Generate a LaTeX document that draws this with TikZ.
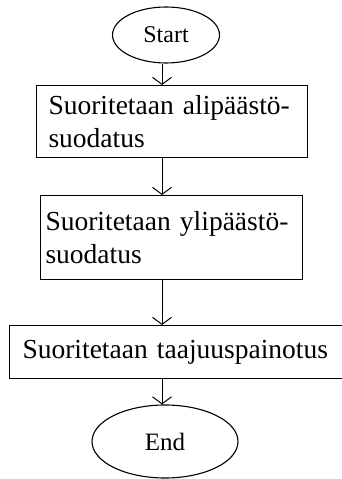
\documentclass[tikz,border=0pt]{standalone}
\usepackage{fontspec}
\setmainfont{Liberation Serif}
\usetikzlibrary{shapes.geometric,arrows.meta}

\tikzset{
  outline/.style={draw=black, line width=1.1pt},
  terminal/.style={outline, ellipse, inner sep=0pt},
  stepbox/.style={outline, rectangle, align=left, anchor=north west,
    font=\fontsize{27.5}{33}\selectfont, inner ysep=0pt},
  flow/.style={line width=1pt, -{Straight Barb[length=7pt,width=19pt,line width=1pt]}}
}

\begin{document}
\begin{tikzpicture}[x=1pt,y=1pt]
  \useasboundingbox (0,0) rectangle (342,479);
  \fill[white] (0,0) rectangle (342,479);

  % vertical spine along which the connectors run
  \coordinate (spine) at (162,0);

  \node[terminal, minimum width=107pt, minimum height=56pt,
        font=\fontsize{24}{28}\selectfont] (start) at (166,444) {Start};

  \node[stepbox, inner xsep=12pt, text width=247pt, minimum height=72pt]
    (lowpass) at (36,394) {Suoritetaan alipäästö-\\suodatus};

  \node[stepbox, inner xsep=5pt, text width=252pt, minimum height=84pt]
    (highpass) at (40,284) {Suoritetaan ylipäästö-\\suodatus};

  \node[stepbox, inner xsep=13pt, text width=309pt, minimum height=53pt]
    (weighting) at (9,154) {Suoritetaan taajuuspainotus};

  \node[terminal, minimum width=146pt, minimum height=73pt,
        font=\fontsize{25}{30}\selectfont] (end) at (165,37.5) {End};

  \draw[flow] (start.south -| spine) -- (lowpass.north -| spine);
  \draw[flow] (lowpass.south -| spine) -- (highpass.north -| spine);
  \draw[flow] (highpass.south -| spine) -- (weighting.north -| spine);
  \draw[flow] (weighting.south -| spine) -- (end.north -| spine);
\end{tikzpicture}
\end{document}
